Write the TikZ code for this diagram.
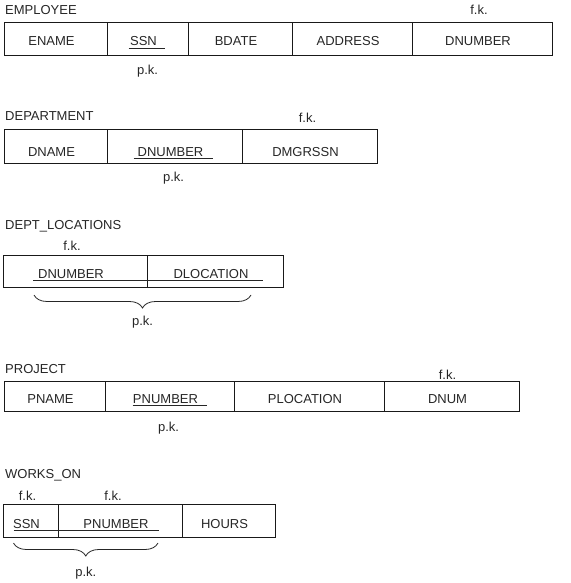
\documentclass[tikz,border=0pt]{standalone}
\usepackage{fontspec}
\setmainfont{Liberation Sans}
\usetikzlibrary{positioning, decorations.pathreplacing}

\begin{document}
\begin{tikzpicture}[
        x=1pt, y=-1pt,
        font=\fontsize{13}{15}\selectfont,
        text=black!85,
        cell/.style={
            draw=black!90,
            line width=0.9pt,
            outer sep=0pt,
            inner sep=0pt,
            minimum height=33pt,
            text height=15pt,
            text depth=0pt,
            execute at end node={\hspace*{8pt}}
        },
        title/.style={
            anchor=base west,
            inner sep=0pt
        },
        key/.style={
            anchor=base,
            inner sep=0pt
        },
        keyline/.style={
            draw=black!85,
            line width=0.8pt
        },
        pkbrace/.style={
            draw=black!85,
            line width=0.8pt,
            decorate,
            decoration={brace, mirror, amplitude=13pt}
        }
    ]

        \useasboundingbox (0,0) rectangle (570,583);

        \node[title] (empTitle) at (5,15) {EMPLOYEE};
        \node[cell, minimum width=103pt, anchor=north west] (eName) at (4,22) {ENAME};
        \node[cell, minimum width=81pt, right=0pt of eName] (eSsn) {SSN};
        \node[cell, minimum width=104pt, right=0pt of eSsn] (eBdate) {BDATE};
        \node[cell, minimum width=120pt, right=0pt of eBdate] (eAddress) {ADDRESS};
        \node[cell, minimum width=140pt, right=0pt of eAddress] (eDnumber) {DNUMBER};
        \node[key] (eFk) at ([xshift=-3pt, yshift=7pt]eDnumber.north) {f.k.};
        \node[key] (ePk) at ([yshift=-20pt]eSsn.south) {p.k.};
        \draw[keyline] ([xshift=-19pt, yshift=-2pt]eSsn.base) -- ([xshift=17pt, yshift=-2pt]eSsn.base);

        \node[title] (depTitle) at (5,121) {DEPARTMENT};
        \node[cell, minimum width=103pt, minimum height=34pt, text height=20pt, anchor=north west] (dName) at (4,129) {DNAME};
        \node[cell, minimum width=135pt, minimum height=34pt, text height=20pt, right=0pt of dName] (dNumber) {DNUMBER};
        \node[cell, minimum width=135pt, minimum height=34pt, text height=20pt, right=0pt of dNumber] (dMgrssn) {DMGRSSN};
        \node[key] (dFk) at ([xshift=-2pt, yshift=7pt]dMgrssn.north) {f.k.};
        \node[key] (dPk) at ([xshift=-1pt, yshift=-18pt]dNumber.south) {p.k.};
        \draw[keyline] ([xshift=-41pt, yshift=-2pt]dNumber.base) -- ([xshift=38pt, yshift=-2pt]dNumber.base);

        \node[title] (locTitle) at (5,229) {DEPT\_LOCATIONS};
        \node[cell, minimum width=144pt, minimum height=32pt, anchor=north west] (lNumber) at (3,255) {DNUMBER};
        \node[cell, minimum width=136pt, minimum height=32pt, right=0pt of lNumber] (lLocation) {DLOCATION};
        \node[key] (lFk) at ([xshift=-3pt, yshift=5pt]lNumber.north) {f.k.};
        \draw[keyline] ([xshift=-42pt, yshift=-2pt]lNumber.base) -- ([xshift=48pt, yshift=-2pt]lLocation.base);
        \draw[pkbrace] ([xshift=-41pt, yshift=-8pt]lNumber.south) -- ([xshift=36pt, yshift=-8pt]lLocation.south)
            node[key, midway, yshift=-30pt] (lPk) {p.k.};

        \node[title] (prjTitle) at (5,373) {PROJECT};
        \node[cell, minimum width=101pt, minimum height=30pt, text height=14pt, anchor=north west] (pName) at (4,381) {PNAME};
        \node[cell, minimum width=129pt, minimum height=30pt, text height=14pt, right=0pt of pName] (pNumber) {PNUMBER};
        \node[cell, minimum width=150pt, minimum height=30pt, text height=14pt, right=0pt of pNumber] (pLocation) {PLOCATION};
        \node[cell, minimum width=135pt, minimum height=30pt, text height=14pt, right=0pt of pLocation] (pDnum) {DNUM};
        \node[key] (pFk) at ([xshift=-4pt, yshift=2pt]pDnum.north) {f.k.};
        \node[key] (pPk) at ([xshift=-1pt, yshift=-20pt]pNumber.south) {p.k.};
        \draw[keyline] ([xshift=-37pt, yshift=-2pt]pNumber.base) -- ([xshift=37pt, yshift=-2pt]pNumber.base);

        \node[title] (wrkTitle) at (5,478) {WORKS\_ON};
        \node[cell, minimum width=55pt, anchor=north west] (wSsn) at (3,504) {SSN};
        \node[cell, minimum width=124pt, right=0pt of wSsn] (wNumber) {PNUMBER};
        \node[cell, minimum width=93pt, right=0pt of wNumber] (wHours) {HOURS};
        \node[key] (wFkA) at ([xshift=-3pt, yshift=4pt]wSsn.north) {f.k.};
        \node[key] (wFkB) at ([xshift=-7pt, yshift=4pt]wNumber.north) {f.k.};
        \draw[keyline] ([xshift=-17pt, yshift=-2pt]wSsn.base) -- ([xshift=39pt, yshift=-2pt]wNumber.base);
        \draw[pkbrace] ([xshift=-17pt, yshift=-6pt]wSsn.south) -- ([xshift=38pt, yshift=-6pt]wNumber.south)
            node[key, midway, yshift=-33pt] (wPk) {p.k.};

    \end{tikzpicture}
\end{document}
